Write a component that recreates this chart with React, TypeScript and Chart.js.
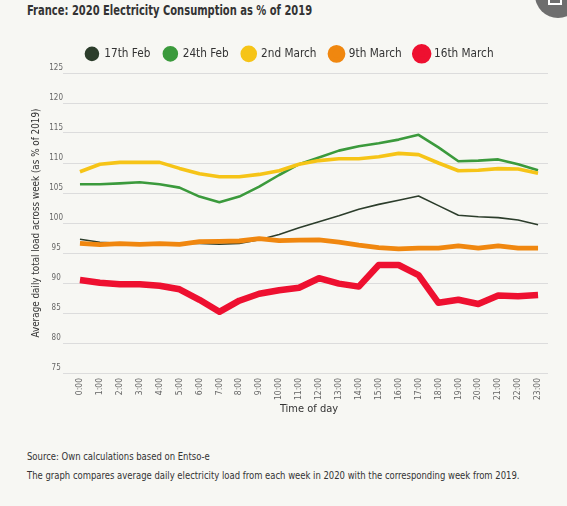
import React, { useEffect, useRef } from "react";
import { Chart, registerables } from "chart.js";

Chart.register(...registerables);

const hours = [
  "0:00", "1:00", "2:00", "3:00", "4:00", "5:00", "6:00", "7:00", "8:00", "9:00", "10:00", "11:00",
  "12:00", "13:00", "14:00", "15:00", "16:00", "17:00", "18:00", "19:00", "20:00", "21:00", "22:00", "23:00",
];

const feb17 = [97.3, 96.8, 96.6, 96.6, 96.6, 96.6, 96.6, 96.45, 96.6, 97.2, 98.1, 99.2, 100.2, 101.2, 102.3, 103.1, 103.8, 104.5, 102.9, 101.3, 101.05, 100.9, 100.5, 99.7];
const feb24 = [106.45, 106.45, 106.6, 106.8, 106.45, 105.9, 104.4, 103.45, 104.4, 106.05, 108.0, 109.8, 110.9, 112.06, 112.8, 113.3, 113.9, 114.7, 112.6, 110.3, 110.4, 110.6, 109.8, 108.8];
const mar2 = [108.55, 109.8, 110.1, 110.1, 110.1, 109.1, 108.2, 107.7, 107.7, 108.1, 108.7, 109.8, 110.4, 110.7, 110.7, 111.05, 111.6, 111.4, 110.0, 108.7, 108.8, 109.06, 109.0, 108.3];
const mar9 = [96.6, 96.4, 96.55, 96.45, 96.55, 96.45, 96.9, 96.95, 97.0, 97.4, 97.05, 97.15, 97.2, 96.8, 96.3, 95.9, 95.7, 95.8, 95.8, 96.2, 95.8, 96.2, 95.8, 95.8];
const mar16 = [90.5, 90.05, 89.8, 89.8, 89.55, 88.95, 87.2, 85.2, 87.05, 88.2, 88.8, 89.2, 90.8, 89.9, 89.4, 93.0, 93.0, 91.3, 86.7, 87.2, 86.5, 87.9, 87.8, 88.0];

const seriesNames = ["17th Feb", "24th Feb", "2nd March", "9th March", "16th March"];
const seriesColors = ["#2c3d2b", "#3b9a3c", "#f6c417", "#f0870f", "#ee1030"];
const seriesWidths = [1.6, 2.6, 3.6, 4.8, 6.5];
const seriesValues = [feb17, feb24, mar2, mar9, mar16];

const yTicks = [75, 80, 85, 90, 95, 100, 105, 110, 115, 120, 125];

const FONT = '"DejaVu Sans Condensed", "DejaVu Sans", sans-serif';
const BG = "#f7f7f3";

export default function App() {
  const canvasRef = useRef<HTMLCanvasElement | null>(null);

  useEffect(() => {
    document.body.style.margin = "0";
    document.body.style.background = BG;
    const canvas = canvasRef.current;
    if (!canvas) return;

    // first series drawn on top: reverse order, legend reversed back
    const datasets = seriesNames
      .map((name, i) => ({
        label: name,
        data: seriesValues[i],
        borderColor: seriesColors[i],
        backgroundColor: seriesColors[i],
        borderWidth: seriesWidths[i],
        pointRadius: 0,
        pointHoverRadius: 0,
        tension: 0,
        fill: false,
        borderJoinStyle: "round" as const,
        borderCapStyle: "butt" as const,
      }))
      .reverse();

    const legendHeight = {
      id: "legendHeight",
      beforeInit(chart: any) {
        const legend = chart.legend;
        if (!legend) return;
        const fit = legend.fit;
        legend.fit = function () {
          fit.call(this);
          this.height = 38.5;
        };
      },
    };

    const chart = new Chart(canvas, {
      type: "line",
      data: { labels: hours, datasets },
      plugins: [legendHeight],
      options: {
        animation: false,
        responsive: false,
        devicePixelRatio: 1,
        layout: { padding: { top: 4.5, left: 31, right: 19, bottom: 10 } },
        plugins: {
          legend: {
            reverse: true,
            position: "top",
            align: "center",
            labels: {
              usePointStyle: true,
              pointStyle: "circle",
              pointStyleWidth: 13,
              boxHeight: 9.2,
              padding: 13.5,
              color: "#333",
              font: { family: FONT, size: 11.7 },
            },
          },
          tooltip: { enabled: false },
        },
        scales: {
          x: {
            type: "category",
            offset: true,
            grid: { display: false, drawTicks: false },
            border: { display: false },
            ticks: {
              autoSkip: false,
              maxRotation: 90,
              minRotation: 90,
              padding: 5,
              color: "#666",
              font: { family: FONT, size: 8.5 },
            },
            title: {
              display: true,
              text: "Time of day",
              color: "#333",
              padding: { top: 4, bottom: 4 },
              font: { family: FONT, size: 11 },
            },
            afterFit(scale: any) {
              scale.height = 47;
            },
          },
          y: {
            min: 75,
            max: 125,
            afterBuildTicks(scale: any) {
              scale.ticks = yTicks.map((v) => ({ value: v }));
            },
            grid: { color: "#dcdcdc", lineWidth: 1, drawTicks: true, tickLength: 7, tickColor: "#dcdcdc" },
            border: { display: false },
            ticks: {
              crossAlign: "center",
              padding: 0,
              labelOffset: -5,
              color: "#666",
              font: { family: FONT, size: 8 },
            },
            title: {
              display: true,
              text: "Average daily total load across week (as % of 2019)",
              color: "#333",
              padding: { top: 0, bottom: 4 },
              font: { family: FONT, size: 9.8 },
            },
            afterFit(scale: any) {
              scale.width = 39;
            },
          },
        },
      },
    });

    return () => chart.destroy();
  }, []);

  const textBase = {
    position: "absolute" as const,
    left: 27,
    whiteSpace: "nowrap" as const,
    color: "#333",
    transformOrigin: "left center",
  };

  return (
    <div style={{ position: "relative", width: 567, height: 506, background: BG, overflow: "hidden", fontFamily: FONT, color: "#333" }}>
      <div style={{ ...textBase, top: 2, fontSize: 14, fontWeight: "bold", transform: "scaleX(0.79)" }}>
        France: 2020 Electricity Consumption as % of 2019
      </div>
      <div
        style={{
          position: "absolute",
          left: 535,
          top: -28,
          width: 46,
          height: 46,
          borderRadius: "50%",
          background: "#6e6e6e",
        }}
      >
        <div style={{ position: "absolute", left: 13, top: 24, width: 10, height: 7, border: "2px solid #fff", borderTop: "none" }} />
      </div>
      <canvas ref={canvasRef} width={567} height={400} style={{ position: "absolute", left: 0, top: 30, width: 567, height: 400 }} />
      <div style={{ ...textBase, top: 450, fontSize: 11, transform: "scaleX(0.855)" }}>
        Source: Own calculations based on Entso-e
      </div>
      <div style={{ ...textBase, top: 469, fontSize: 11, transform: "scaleX(0.855)" }}>
        The graph compares average daily electricity load from each week in 2020 with the corresponding week from 2019.
      </div>
    </div>
  );
}
